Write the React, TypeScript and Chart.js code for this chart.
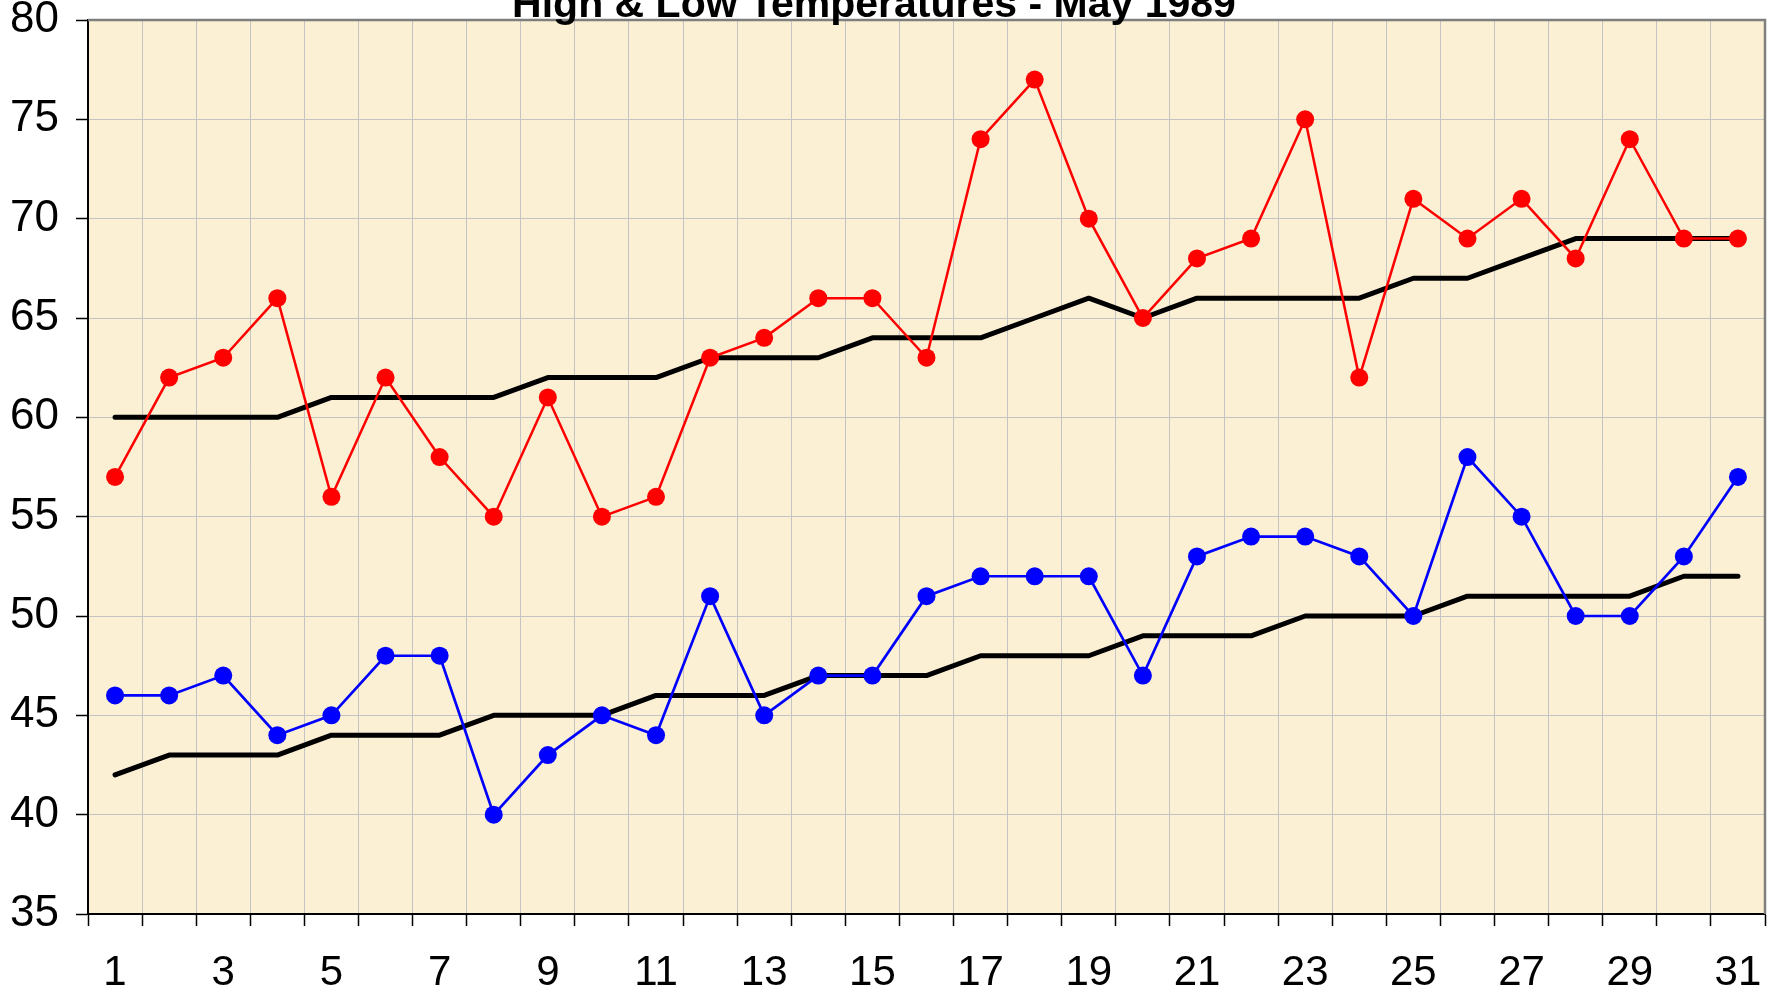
import React, { useEffect, useRef } from "react";
import { Chart, registerables } from "chart.js";

Chart.register(...registerables);

const days = [
  "1", "2", "3", "4", "5", "6", "7", "8", "9", "10",
  "11", "12", "13", "14", "15", "16", "17", "18", "19", "20",
  "21", "22", "23", "24", "25", "26", "27", "28", "29", "30", "31",
];

const highTemps = [
  57, 62, 63, 66, 56, 62, 58, 55, 61, 55,
  56, 63, 64, 66, 66, 63, 74, 77, 70, 65,
  68, 69, 75, 62, 71, 69, 71, 68, 74, 69, 69,
];

const lowTemps = [
  46, 46, 47, 44, 45, 48, 48, 40, 43, 45,
  44, 51, 45, 47, 47, 51, 52, 52, 52, 47,
  53, 54, 54, 53, 50, 58, 55, 50, 50, 53, 57,
];

const normalHigh = [
  60, 60, 60, 60, 61, 61, 61, 61, 62, 62,
  62, 63, 63, 63, 64, 64, 64, 65, 66, 65,
  66, 66, 66, 66, 67, 67, 68, 69, 69, 69, 69,
];

const normalLow = [
  42, 43, 43, 43, 44, 44, 44, 45, 45, 45,
  46, 46, 46, 47, 47, 47, 48, 48, 48, 49,
  49, 49, 50, 50, 50, 51, 51, 51, 51, 52, 52,
];

const titleText = "High & Low Temperatures - May 1989";
const yMin = 35;
const yMax = 80;
const yStep = 5;

const FONT = "'Liberation Sans', Arial, Helvetica, sans-serif";

const decorPlugin = {
  id: "decor",
  beforeDraw(chart: any) {
    const { ctx, chartArea, width, height } = chart;
    ctx.save();
    ctx.fillStyle = "#ffffff";
    ctx.fillRect(0, 0, width, height);
    ctx.fillStyle = "#FBEFD4";
    ctx.fillRect(
      chartArea.left,
      chartArea.top,
      chartArea.right - chartArea.left,
      chartArea.bottom - chartArea.top
    );
    ctx.restore();
  },
  beforeDatasetsDraw(chart: any) {
    const { ctx, chartArea } = chart;
    ctx.save();
    ctx.strokeStyle = "#7f7f7f";
    ctx.lineWidth = 2.5;
    ctx.beginPath();
    ctx.moveTo(chartArea.left, chartArea.top);
    ctx.lineTo(chartArea.right, chartArea.top);
    ctx.lineTo(chartArea.right, chartArea.bottom);
    ctx.stroke();
    ctx.restore();
  },
  afterDraw(chart: any) {
    const { ctx } = chart;
    ctx.save();
    ctx.fillStyle = "#000000";
    ctx.font = `bold 41px ${FONT}`;
    ctx.textAlign = "center";
    ctx.textBaseline = "alphabetic";
    ctx.fillText(titleText, 874, 17);
    ctx.restore();
  },
};

export default function App() {
  const canvasRef = useRef<HTMLCanvasElement | null>(null);

  useEffect(() => {
    if (!canvasRef.current) return;
    const chart = new Chart(canvasRef.current, {
      type: "line",
      data: {
        labels: days,
        datasets: [
          {
            label: "High",
            data: highTemps,
            borderColor: "#FF0000",
            backgroundColor: "#FF0000",
            borderWidth: 2.5,
            pointRadius: 9,
            pointBorderWidth: 0,
            pointBackgroundColor: "#FF0000",
            tension: 0,
            order: 1,
          },
          {
            label: "Low",
            data: lowTemps,
            borderColor: "#0000FF",
            backgroundColor: "#0000FF",
            borderWidth: 2.7,
            pointRadius: 9,
            pointBorderWidth: 0,
            pointBackgroundColor: "#0000FF",
            tension: 0,
            order: 1,
          },
          {
            label: "Normal High",
            data: normalHigh,
            borderColor: "#000000",
            borderWidth: 5,
            pointRadius: 0,
            borderCapStyle: "round",
            borderJoinStyle: "round",
            tension: 0,
            order: 2,
          },
          {
            label: "Normal Low",
            data: normalLow,
            borderColor: "#000000",
            borderWidth: 5,
            pointRadius: 0,
            borderCapStyle: "round",
            borderJoinStyle: "round",
            tension: 0,
            order: 2,
          },
        ],
      },
      options: {
        animation: false,
        responsive: true,
        maintainAspectRatio: false,
        layout: { padding: { top: 20, right: 9, left: 0, bottom: 0 } },
        plugins: {
          legend: { display: false },
          tooltip: { enabled: false },
          title: { display: false },
        },
        scales: {
          x: {
            type: "category",
            offset: true,
            afterFit(scale: any) {
              scale.height = 83;
              scale.paddingLeft = 0;
              scale.paddingRight = 0;
            },
            grid: {
              offset: true,
              color: "#C4C4C4",
              lineWidth: 1,
              tickColor: "#000000",
              tickLength: 12,
              tickWidth: 1.5,
            },
            border: { display: true, color: "#000000", width: 2 },
            ticks: {
              autoSkip: false,
              maxRotation: 0,
              minRotation: 0,
              padding: 22,
              color: "#000000",
              font: { family: FONT, size: 42 },
              callback: function (this: any, value: any, index: number) {
                return index % 2 === 0 ? this.getLabelForValue(value) : "";
              },
            },
          },
          y: {
            min: yMin,
            max: yMax,
            afterFit(scale: any) {
              scale.width = 88;
              scale.paddingTop = 0;
              scale.paddingBottom = 0;
            },
            grid: {
              color: "#C4C4C4",
              lineWidth: 1,
              tickColor: "#000000",
              tickLength: 12,
              tickWidth: 1.5,
            },
            border: { display: true, color: "#000000", width: 2 },
            ticks: {
              stepSize: yStep,
              padding: 17,
              color: "#000000",
              font: { family: FONT, size: 44 },
            },
          },
        },
      },
      plugins: [decorPlugin],
    });
    return () => chart.destroy();
  }, []);

  return (
    <div
      style={{
        position: "fixed",
        left: 0,
        top: 0,
        width: "1774px",
        height: "997px",
        background: "#ffffff",
      }}
    >
      <canvas ref={canvasRef} />
    </div>
  );
}
